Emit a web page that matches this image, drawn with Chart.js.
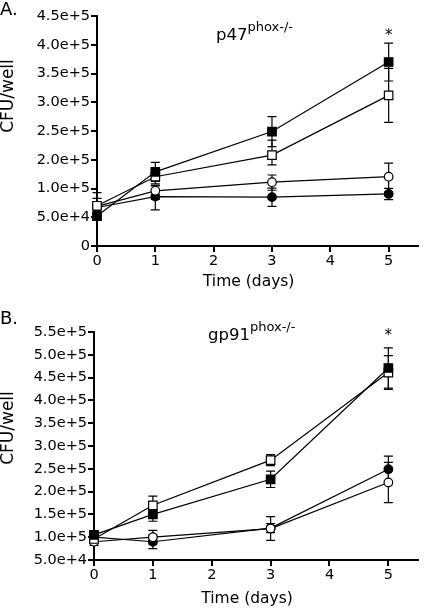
<!DOCTYPE html>
<html><head><meta charset="utf-8">
<script src="https://cdn.jsdelivr.net/npm/chart.js@4/dist/chart.umd.min.js"></script>
<style>
html,body{margin:0;padding:0;background:#fff;}
#wrap{position:relative;width:425px;height:611px;overflow:hidden;background:#fff;}
.panel{position:absolute;left:0;width:425px;}
#pa{top:0;height:300px;}
#pb{top:300px;height:311px;}
</style></head><body>
<div id="wrap">
<div class="panel" id="pa"><canvas id="ca"></canvas></div>
<div class="panel" id="pb"><canvas id="cb"></canvas></div>
</div>
<script>
// ---------- data ----------
const days = [0, 1, 3, 5];
const xTickValues = [0, 1, 2, 3, 4, 5];
const xTickLabels = ["0", "1", "2", "3", "4", "5"];

// Panel A : p47phox-/-
const aTickValues = [0, 5e4, 1e5, 2e5, 2.5e5, 3e5, 3.5e5, 4e5, 4.5e5];
const aTickLabels = ["0", "5.0e+4", "1.0e+5", "2.0e+5", "2.5e+5", "3.0e+5", "3.5e+5", "4.0e+5", "4.5e+5"];
const aFilledSquare    = [52000, 158000, 249000, 370000];
const aFilledSquareErr = [5000, 33000, 26000, 33000];
const aOpenSquare      = [70000, 141000, 208000, 312000];
const aOpenSquareErr   = [23000, 25000, 26000, 47000];
const aOpenCircle      = [69000, 96000, 122000, 141000];
const aOpenCircleErr   = [14000, 15000, 25000, 47000];
const aFilledCircle    = [67000, 86000, 85000, 90500];
const aFilledCircleErr = [6000, 23000, 16000, 10000];

// Panel B : gp91phox-/-
const bTickValues = [5e4, 1e5, 1.5e5, 2e5, 2.5e5, 3e5, 3.5e5, 4e5, 4.5e5, 5e5, 5.5e5];
const bTickLabels = ["5.0e+4", "1.0e+5", "1.5e+5", "2.0e+5", "2.5e+5", "3.0e+5", "3.5e+5", "4.0e+5", "4.5e+5", "5.0e+5", "5.5e+5"];
const bFilledSquare    = [105000, 150000, 227000, 471000];
const bFilledSquareErr = [8000, 15000, 18000, 44000];
const bOpenSquare      = [96000, 170000, 269000, 461000];
const bOpenSquareErr   = [8000, 20000, 12000, 37000];
const bOpenCircle      = [90000, 100000, 119000, 220000];
const bOpenCircleErr   = [8000, 15000, 26000, 44000];
const bFilledCircle    = [100000, 90000, 120000, 249000];
const bFilledCircleErr = [6000, 15000, 10000, 29000];

// ---------- helpers ----------
Chart.defaults.font.family = "'DejaVu Sans', sans-serif";
Chart.defaults.color = '#000';

// map a value onto the axis, whose labelled ticks are evenly spaced
function toPos(v, tv) {
  if (v <= tv[0]) return (v - tv[0]) / (tv[1] - tv[0]);
  for (let i = 1; i < tv.length; i++) {
    if (v <= tv[i]) return (i - 1) + (v - tv[i - 1]) / (tv[i] - tv[i - 1]);
  }
  const n = tv.length - 1;
  return n + (v - tv[n]) / (tv[n] - tv[n - 1]);
}

const errorBars = {
  id: 'errorBars',
  beforeDatasetsDraw(chart) {
    const ctx = chart.ctx, ys = chart.scales.y;
    const tv = chart.options.plugins.errorBars.tickValues;
    ctx.save();
    ctx.strokeStyle = '#000';
    ctx.lineWidth = 1.2;
    chart.data.datasets.forEach((ds, i) => {
      const meta = chart.getDatasetMeta(i);
      ds.rawValues.forEach((v, j) => {
        const e = ds.errors[j];
        const px = meta.data[j].x;
        const yt = ys.getPixelForValue(toPos(v + e, tv));
        const yb = ys.getPixelForValue(toPos(Math.max(v - e, 0), tv));
        ctx.beginPath();
        ctx.moveTo(px, yt); ctx.lineTo(px, yb);
        ctx.moveTo(px - 4.5, yt); ctx.lineTo(px + 4.5, yt);
        ctx.moveTo(px - 4.5, yb); ctx.lineTo(px + 4.5, yb);
        ctx.stroke();
      });
    });
    ctx.restore();
  }
};

const panelText = {
  id: 'panelText',
  afterDraw(chart) {
    const o = chart.options.plugins.panelText;
    const ctx = chart.ctx, xs = chart.scales.x;
    ctx.save();
    ctx.fillStyle = '#000';
    ctx.textAlign = 'left';
    ctx.textBaseline = 'alphabetic';
    ctx.font = "18px 'DejaVu Sans'";
    ctx.fillText(o.letter, 0, o.letterY);
    ctx.font = "16.5px 'DejaVu Sans'";
    ctx.fillText(o.gene, o.geneX, o.geneY);
    const w = ctx.measureText(o.gene).width;
    ctx.font = "13px 'DejaVu Sans'";
    ctx.fillText(o.sup, o.geneX + w, o.geneY - 9);
    ctx.textAlign = 'center';
    ctx.font = "15px 'DejaVu Sans'";
    ctx.fillText('*', xs.getPixelForValue(5), o.starY);
    ctx.font = "15.5px 'DejaVu Sans'";
    ctx.textBaseline = 'middle';
    ctx.fillText('Time (days)', xs.getPixelForValue(2.6), o.xTitleY);
    ctx.translate(9, o.yTitleY);
    ctx.rotate(-Math.PI / 2);
    ctx.font = "17px 'DejaVu Sans'";
    ctx.fillText('CFU/well', 0, 0);
    ctx.restore();
  }
};

function series(vals, errs, style, fill, tickValues) {
  return {
    rawValues: vals,
    errors: errs,
    data: days.map((d, j) => ({ x: d, y: toPos(vals[j], tickValues) })),
    borderColor: '#000',
    borderWidth: 1.2,
    pointStyle: style,
    pointRadius: style === 'rect' ? 6 : 4.3,
    pointBorderWidth: 1.2,
    pointBorderColor: '#000',
    pointBackgroundColor: fill,
    backgroundColor: fill,
    tension: 0,
    fill: false,
    clip: false
  };
}

function makeChart(canvasId, tickValues, tickLabels, sets, lay) {
  const datasets = sets.map(s => series(s[0], s[1], s[2], s[3], tickValues));
  return new Chart(document.getElementById(canvasId), {
    type: 'line',
    data: { datasets },
    options: {
      responsive: true,
      maintainAspectRatio: false,
      animation: false,
      events: [],
      layout: { padding: { top: lay.top, right: lay.right, bottom: 0, left: 0 } },
      plugins: {
        legend: { display: false },
        tooltip: { enabled: false },
        errorBars: { tickValues },
        panelText: lay.text
      },
      scales: {
        x: {
          type: 'linear',
          min: 0, max: 5.5,
          border: { color: '#000', width: 2 },
          grid: { drawOnChartArea: false, drawTicks: true, tickLength: 6, color: '#000', lineWidth: 2 },
          ticks: {
            padding: 1, font: { size: 14.5 }, color: '#000', autoSkip: false, maxRotation: 0,
            callback: (v, i) => xTickLabels[i]
          },
          afterBuildTicks: (s) => { s.ticks = xTickValues.map(v => ({ value: v })); },
          afterFit: (s) => { s.height = lay.xHeight; }
        },
        y: {
          type: 'linear',
          min: toPos(tickValues[0], tickValues),
          max: tickValues.length - 1,
          border: { color: '#000', width: 2 },
          grid: { drawOnChartArea: false, drawTicks: true, tickLength: 6, color: '#000', lineWidth: 2 },
          ticks: {
            padding: 1, font: { size: 14.5 }, color: '#000', autoSkip: false,
            callback: (v, i) => tickLabels[i]
          },
          afterBuildTicks: (s) => {
            s.ticks = tickValues.map((tv, i) => ({ value: i }));
          },
          afterFit: (s) => { s.width = lay.yWidth; }
        }
      }
    },
    plugins: [errorBars, panelText]
  });
}

makeChart('ca', aTickValues, aTickLabels, [
  [aFilledSquare, aFilledSquareErr, 'rect', '#000'],
  [aOpenSquare, aOpenSquareErr, 'rect', '#fff'],
  [aOpenCircle, aOpenCircleErr, 'circle', '#fff'],
  [aFilledCircle, aFilledCircleErr, 'circle', '#000']
], {
  top: 16, right: 0, xHeight: 54, yWidth: 97,
  text: { letter: 'A.', letterY: 15, gene: 'p47', sup: 'phox-/-', geneX: 216, geneY: 40,
          starY: 40, xTitleY: 282, yTitleY: 96 }
});

makeChart('cb', bTickValues, bTickLabels, [
  [bFilledSquare, bFilledSquareErr, 'rect', '#000'],
  [bOpenSquare, bOpenSquareErr, 'rect', '#fff'],
  [bOpenCircle, bOpenCircleErr, 'circle', '#fff'],
  [bFilledCircle, bFilledCircleErr, 'circle', '#000']
], {
  top: 32, right: 2, xHeight: 51, yWidth: 94,
  text: { letter: 'B.', letterY: 24, gene: 'gp91', sup: 'phox-/-', geneX: 208, geneY: 40,
          starY: 40, xTitleY: 299, yTitleY: 128 }
});
</script>
</body></html>
